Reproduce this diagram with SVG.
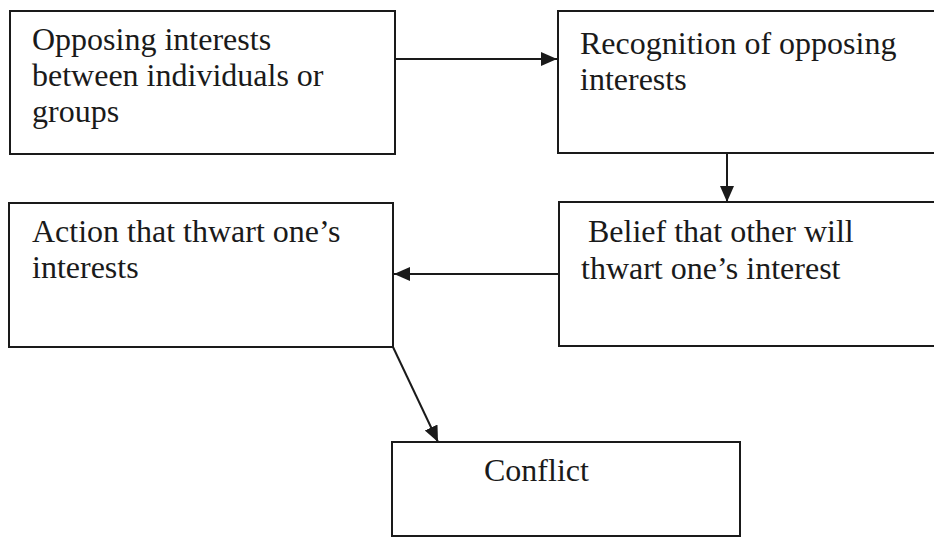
<svg xmlns="http://www.w3.org/2000/svg" width="934" height="537" viewBox="0 0 934 537">
<defs>
<style>
.box{fill:#fff;stroke:#1a1a1a;stroke-width:2}
.lbl{font-family:"Liberation Serif","Times New Roman",serif;font-size:32px;fill:#1a1a1a}
.con{stroke:#1a1a1a;stroke-width:2;fill:none}
</style>
<marker id="ah" markerUnits="userSpaceOnUse" markerWidth="18" markerHeight="16" refX="16" refY="7" orient="auto">
<path d="M0,0 L16,7 L0,14 Z" fill="#1a1a1a"/>
</marker>
</defs>
<rect width="934" height="537" fill="#fff"/>
<g id="connectors">
<line class="con" x1="395" y1="59" x2="557" y2="59" marker-end="url(#ah)"/>
<line class="con" x1="727" y1="154" x2="727" y2="202" marker-end="url(#ah)"/>
<line class="con" x1="559" y1="274" x2="394" y2="274" marker-end="url(#ah)"/>
<line class="con" x1="393" y1="347" x2="438" y2="442" marker-end="url(#ah)"/>
</g>
<g id="n1">
<rect class="box" x="10" y="11" width="385" height="143"/>
<text class="lbl" x="32" y="50">Opposing interests</text>
<text class="lbl" x="32" y="86">between individuals or</text>
<text class="lbl" x="32" y="122">groups</text>
</g>
<g id="n2">
<rect class="box" x="558" y="11" width="380" height="142"/>
<text class="lbl" x="580" y="54">Recognition of opposing</text>
<text class="lbl" x="580" y="90">interests</text>
</g>
<g id="n3">
<rect class="box" x="559" y="202" width="379" height="144"/>
<text class="lbl" x="588" y="242">Belief that other will</text>
<text class="lbl" x="581" y="279">thwart one’s interest</text>
</g>
<g id="n4">
<rect class="box" x="9" y="203" width="384" height="144"/>
<text class="lbl" x="32" y="242">Action that thwart one’s</text>
<text class="lbl" x="32" y="278">interests</text>
</g>
<g id="n5">
<rect class="box" x="392" y="442" width="348" height="94"/>
<text class="lbl" x="484" y="481">Conflict</text>
</g>
</svg>
